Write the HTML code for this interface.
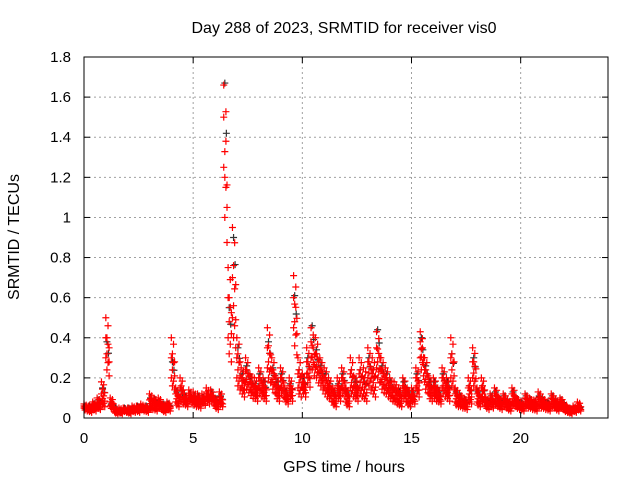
<!DOCTYPE html>
<html><head><meta charset="utf-8"><style>
body{margin:0;background:#fff}
svg{display:block;font-family:"Liberation Sans",sans-serif}
</style></head><body>
<svg id="chart" width="640" height="480">
<text x="344" y="33" font-size="16" text-anchor="middle">Day 288 of 2023, SRMTID for receiver vis0</text>
<text x="344" y="472" font-size="16" text-anchor="middle">GPS time / hours</text>
<text transform="translate(19,237) rotate(-90)" font-size="16" text-anchor="middle">SRMTID / TECUs</text>
<g id="grid"></g>
<g id="marks"></g>
<g id="axes"></g>
</svg>
<script>
const xTicks=[0,5,10,15,20];
const yTicks=[0,0.2,0.4,0.6,0.8,1,1.2,1.4,1.6,1.8];
const yTickLabels=["0","0.2","0.4","0.6","0.8","1","1.2","1.4","1.6","1.8"];
const tStart=0, tStep=0.2;
const redA=[0.07,0.06,0.08,0.07,0.12, 0.5,0.1,0.05,0.04,0.05, 0.05,0.06,0.05,0.07,0.06, 0.12,0.08,0.1,0.07,0.08, 0.4,0.15,0.2,0.12,0.14, 0.13,0.1,0.12,0.15,0.14, 0.1,0.13,1.66,0.75,0.95, 0.4,0.25,0.3,0.22,0.2, 0.25,0.2,0.45,0.3,0.2, 0.25,0.15,0.2,0.71,0.3, 0.22,0.35,0.45,0.4,0.3, 0.25,0.2,0.15,0.2,0.25, 0.15,0.3,0.2,0.3,0.25, 0.35,0.3,0.43,0.3,0.25, 0.2,0.18,0.15,0.2,0.15, 0.15,0.25,0.43,0.3,0.2, 0.2,0.15,0.25,0.2,0.4, 0.15,0.12,0.1,0.2,0.35, 0.15,0.2,0.1,0.12,0.15, 0.1,0.12,0.09,0.15,0.1, 0.08,0.12,0.1,0.09,0.13, 0.1,0.08,0.12,0.09,0.1, 0.07,0.05,0.06,0.08];
const redB=[0.05,0.04,0.05,0.06,0.08, 0.3,0.06,0.03,0.03,0.04, 0.03,0.04,0.04,0.05,0.04, 0.06,0.05,0.06,0.04,0.05, 0.2,0.08,0.1,0.08,0.1, 0.08,0.07,0.09,0.1,0.1, 0.06,0.08,1.25,0.4,0.5, 0.2,0.15,0.18,0.14,0.12, 0.15,0.12,0.25,0.18,0.12, 0.15,0.1,0.12,0.45,0.15, 0.15,0.22,0.3,0.25,0.2, 0.15,0.12,0.08,0.12,0.15, 0.08,0.15,0.12,0.15,0.12, 0.2,0.15,0.25,0.18,0.15, 0.12,0.1,0.08,0.12,0.08, 0.1,0.15,0.3,0.18,0.12, 0.12,0.1,0.15,0.12,0.2, 0.08,0.07,0.06,0.1,0.2, 0.08,0.1,0.06,0.07,0.08, 0.06,0.07,0.05,0.08,0.06, 0.05,0.07,0.06,0.05,0.07, 0.06,0.05,0.07,0.05,0.06, 0.04,0.03,0.04,0.05];
const redC=[0.06,0.05,0.07,0.1,0.18, 0.4,0.08,0.04,0.05,0.05, 0.04,0.05,0.06,0.06,0.05, 0.09,0.1,0.08,0.06,0.07, 0.3,0.12,0.15,0.1,0.12, 0.1,0.12,0.1,0.13,0.12, 0.08,0.1,1.5,0.6,0.7, 0.3,0.2,0.24,0.18,0.16, 0.2,0.16,0.35,0.24,0.16, 0.2,0.12,0.16,0.6,0.22, 0.18,0.28,0.38,0.32,0.25, 0.2,0.16,0.12,0.16,0.2, 0.12,0.22,0.16,0.22,0.18, 0.28,0.22,0.35,0.24,0.2, 0.16,0.14,0.12,0.16,0.12, 0.12,0.2,0.38,0.24,0.16, 0.16,0.12,0.2,0.16,0.3, 0.12,0.1,0.08,0.15,0.28, 0.12,0.15,0.08,0.1,0.12, 0.08,0.1,0.07,0.12,0.08, 0.07,0.1,0.08,0.07,0.1, 0.08,0.07,0.1,0.07,0.08, 0.06,0.04,0.05,0.06];
const grey=[0.06,0.06,0.07,0.09,0.15, 0.38,0.07,0.05,0.04,0.05, 0.05,0.05,0.06,0.05,0.06, 0.1,0.09,0.08,0.07,0.07, 0.28,0.13,0.14,0.11,0.12, 0.11,0.11,0.1,0.12,0.13, 0.09,0.11,1.67,0.55,0.9, 0.35,0.22,0.26,0.2,0.17, 0.22,0.18,0.38,0.25,0.18, 0.22,0.13,0.17,0.61,0.24, 0.2,0.3,0.46,0.34,0.26, 0.22,0.17,0.13,0.17,0.22, 0.13,0.24,0.18,0.24,0.2, 0.3,0.24,0.44,0.26,0.22, 0.18,0.15,0.13,0.18,0.13, 0.13,0.22,0.4,0.26,0.18, 0.18,0.13,0.22,0.18,0.32, 0.13,0.11,0.09,0.16,0.3, 0.13,0.16,0.09,0.11,0.13, 0.09,0.11,0.08,0.13,0.09, 0.08,0.11,0.09,0.08,0.11, 0.09,0.08,0.11,0.08,0.09, 0.06,0.05,0.05,0.06];

const L=84,R=608,T=57,B=418,xMax=24,yMax=1.8;
const X=v=>L+(R-L)*v/xMax, Y=v=>B-(B-T)*v/yMax;
const NS="http://www.w3.org/2000/svg";
function mk(tag,attrs,parent){const e=document.createElementNS(NS,tag);for(const k in attrs)e.setAttribute(k,attrs[k]);parent.appendChild(e);return e;}
const grid=document.getElementById('grid'),axes=document.getElementById('axes'),marks=document.getElementById('marks');
yTicks.forEach((v,i)=>{
  if(i>0&&i<yTicks.length-1){const g=mk('line',{x1:L,x2:R,y1:Y(v),y2:Y(v),stroke:'#a0a0a0','stroke-dasharray':'2,3'},grid);
  
  }
  mk('line',{x1:L,x2:L+6,y1:Y(v),y2:Y(v),stroke:'#000'},axes);
  mk('line',{x1:R,x2:R-6,y1:Y(v),y2:Y(v),stroke:'#000'},axes);
  const t=mk('text',{x:L-13,y:Y(v)+5,'font-size':15,'text-anchor':'end'},axes);t.textContent=yTickLabels[i];
  
  
});
xTicks.forEach(v=>{
  if(v>0){const g=mk('line',{x1:X(v),x2:X(v),y1:T,y2:B,stroke:'#a0a0a0','stroke-dasharray':'2,3'},grid);
  
  }
  mk('line',{x1:X(v),x2:X(v),y1:B,y2:B-6,stroke:'#000'},axes);
  mk('line',{x1:X(v),x2:X(v),y1:T,y2:T+6,stroke:'#000'},axes);
  const t=mk('text',{x:X(v),y:B+25,'font-size':15,'text-anchor':'middle'},axes);t.textContent=String(v);
  
  
});
const frame=mk('rect',{x:L,y:T,width:R-L,height:B-T,fill:'none',stroke:'#000'},axes);


function plus(t,v,color,name){
  const x=X(t),y=Y(v);
  const p=mk('path',{d:`M${x-3.5},${y}H${x+3.5}M${x},${y-3.5}V${y+3.5}`,stroke:color,'stroke-width':1.2,fill:'none'},marks);
  
  
}
grey.forEach((v,i)=>{plus(tStart+i*tStep+0.05,v,'#333','grey-point');plus(tStart+i*tStep+0.12,v*0.85,'#333','grey-point');});
const subOffsets=[0,0.05,0.1,0.15], subScale=[1,0.8,0.92,0.7];
[redA,redB,redC].forEach(s=>s.forEach((v,i)=>{
  subOffsets.forEach((o,k)=>plus(tStart+i*tStep+o,v*subScale[k],'#f00','red-point'));
}));
</script>
</body></html>
